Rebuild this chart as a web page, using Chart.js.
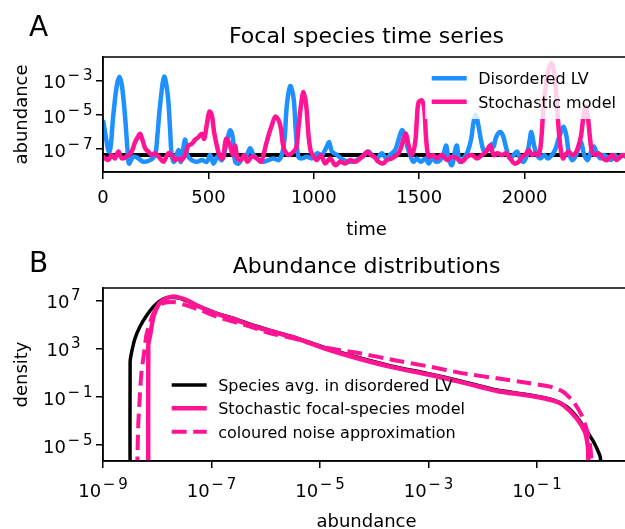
<!DOCTYPE html>
<html>
<head>
<meta charset="utf-8">
<script src="https://cdn.jsdelivr.net/npm/chart.js@4.4.0/dist/chart.umd.min.js"></script>
<style>
html, body { margin: 0; padding: 0; background: #fff; overflow: hidden; width: 625px; height: 529px; }
canvas { position: absolute; left: 0; }
#timeChart { top: 0; }
#distChart { top: 250px; }
</style>
</head>
<body>
<canvas id="timeChart" width="630" height="250"></canvas>
<canvas id="distChart" width="630" height="279"></canvas>
<script>
const FONT = 'DejaVu Sans';
const BLUE = '#1e90ff';
const PINK = '#ff1493';

// ---- panel A: focal species time series (log10 abundance)
const lvTime = [0, 30, 49, 65, 78, 90, 104, 116, 123, 144, 168, 192, 223, 247, 258, 271, 290, 307, 318, 326, 337, 358, 369, 389, 400, 421, 445, 469, 492, 508, 524, 543, 564, 584, 603, 616, 627, 643, 666, 682, 698, 714, 738, 761, 785, 809, 833, 848, 861, 872, 888, 904, 915, 927, 943, 967, 991, 1015, 1038, 1062, 1073, 1086, 1110, 1141, 1173, 1205, 1228, 1260, 1275, 1299, 1323, 1343, 1362, 1386, 1402, 1418, 1429, 1442, 1457, 1473, 1489, 1508, 1529, 1545, 1560, 1581, 1600, 1616, 1628, 1639, 1655, 1671, 1679, 1692, 1711, 1730, 1746, 1758, 1769, 1782, 1795, 1809, 1829, 1845, 1853, 1865, 1883, 1897, 1913, 1929, 1948, 1964, 1979, 1995, 2011, 2024, 2032, 2046, 2059, 2075, 2093, 2109, 2130, 2146, 2161, 2173, 2185, 2198, 2209, 2225, 2245, 2258, 2268, 2283, 2299, 2315, 2328, 2343, 2359, 2375, 2391, 2410, 2426, 2446, 2462, 2478, 2500];
const lvLogAbund = [-5.3, -7.16, -5.0, -3.3, -2.75, -3.3, -5.0, -7.0, -7.85, -7.45, -7.55, -7.75, -7.65, -7.35, -6.2, -4.4, -2.75, -3.8, -5.8, -7.35, -7.75, -7.05, -7.75, -6.45, -7.35, -7.65, -7.75, -7.65, -7.75, -7.35, -7.85, -7.45, -7.65, -6.8, -5.9, -6.35, -7.75, -7.85, -7.45, -7.35, -6.95, -7.35, -7.65, -7.75, -7.65, -7.55, -7.65, -7.35, -6.45, -4.45, -3.3, -4.0, -6.0, -7.45, -7.55, -7.45, -7.55, -7.25, -7.35, -6.85, -6.6, -7.15, -7.35, -7.65, -7.75, -7.65, -7.45, -7.15, -7.35, -7.55, -7.25, -7.55, -7.35, -7.05, -6.45, -5.9, -6.1, -6.8, -7.35, -7.75, -7.55, -7.75, -7.55, -7.85, -7.55, -7.75, -7.65, -7.25, -6.8, -7.55, -7.95, -7.05, -6.8, -7.75, -7.55, -7.15, -6.45, -5.4, -5.0, -5.7, -6.6, -7.15, -6.95, -6.7, -6.85, -6.3, -6.0, -6.2, -6.95, -7.55, -7.35, -7.15, -7.55, -7.75, -7.35, -6.5, -6.0, -6.85, -7.35, -7.55, -7.35, -7.55, -7.35, -7.0, -6.4, -6.0, -5.7, -6.2, -7.15, -7.65, -7.35, -6.8, -6.6, -7.35, -7.65, -7.15, -6.85, -7.25, -7.55, -7.35, -7.45, -7.65, -7.35, -7.55, -7.35, -7.45, -7.5];

const stochTime = [0, 25, 41, 57, 73, 89, 112, 136, 152, 165, 176, 187, 200, 215, 231, 247, 271, 287, 310, 326, 342, 358, 374, 389, 405, 421, 437, 453, 469, 480, 492, 505, 516, 527, 540, 552, 568, 584, 600, 616, 627, 638, 654, 670, 685, 706, 730, 749, 761, 774, 790, 801, 817, 833, 844, 853, 864, 880, 896, 916, 927, 939, 951, 964, 975, 986, 999, 1015, 1034, 1054, 1078, 1102, 1125, 1149, 1173, 1197, 1220, 1239, 1255, 1271, 1286, 1307, 1328, 1347, 1370, 1394, 1410, 1426, 1437, 1450, 1465, 1481, 1489, 1497, 1513, 1524, 1533, 1545, 1565, 1584, 1608, 1632, 1655, 1679, 1703, 1727, 1750, 1774, 1798, 1818, 1837, 1853, 1872, 1892, 1913, 1932, 1951, 1972, 1987, 2003, 2019, 2035, 2051, 2067, 2078, 2090, 2103, 2114, 2127, 2138, 2149, 2158, 2169, 2182, 2193, 2209, 2225, 2241, 2256, 2268, 2280, 2291, 2301, 2309, 2320, 2336, 2351, 2372, 2391, 2415, 2435, 2454, 2478, 2500];
const stochLogAbund = [-7.45, -7.65, -7.35, -7.55, -7.15, -7.55, -7.45, -7.15, -6.6, -6.3, -6.1, -6.45, -6.95, -7.15, -7.35, -7.25, -7.55, -7.75, -7.25, -7.35, -7.65, -7.55, -7.65, -7.35, -6.8, -6.7, -6.45, -6.3, -6.1, -6.4, -5.6, -4.8, -5.0, -6.0, -6.8, -7.35, -7.55, -6.4, -6.7, -7.35, -6.8, -7.55, -7.65, -7.35, -7.75, -7.45, -7.55, -7.75, -7.35, -6.7, -6.0, -5.6, -5.1, -5.3, -5.8, -6.7, -7.15, -7.35, -7.25, -6.95, -5.8, -4.45, -3.65, -4.45, -6.2, -7.15, -7.45, -7.65, -7.35, -7.85, -7.55, -7.95, -7.75, -7.85, -7.65, -7.75, -7.55, -7.35, -7.15, -7.35, -7.45, -7.75, -7.85, -7.65, -7.55, -7.35, -7.05, -6.4, -6.1, -6.8, -7.35, -6.6, -5.25, -4.25, -4.15, -4.65, -6.4, -7.45, -7.35, -7.55, -7.35, -7.65, -7.45, -7.55, -7.75, -7.45, -7.35, -7.55, -7.35, -7.15, -6.8, -7.35, -7.25, -7.35, -7.25, -7.55, -7.85, -7.75, -7.45, -7.35, -7.05, -7.35, -7.25, -7.35, -6.6, -4.45, -3.0, -2.3, -1.95, -2.35, -3.65, -5.25, -6.8, -7.55, -7.35, -7.15, -7.35, -7.25, -6.8, -6.2, -5.0, -4.5, -5.2, -6.2, -7.15, -7.35, -7.25, -7.55, -7.65, -7.35, -7.65, -7.45, -7.35, -7.4];

const meanTime = [0, 2500];
const meanAbund = [4.5e-8, 4.5e-8];

const timeTicks = [0, 500, 1000, 1500, 2000];
const abundTickExps = [-7, -5, -3];

// ---- panel B: abundance distributions (log10 abundance, log10 density)
const lvDistLogX = [-8.50, -8.50, -8.46, -8.41, -8.32, -8.19, -8.07, -7.95, -7.83, -7.70, -7.58, -7.40, -7.21, -6.90, -6.60, -6.29, -5.92, -5.49, -4.88, -4.26, -3.65, -3.00, -2.36, -1.74, -1.13, -0.70, -0.45, -0.27, -0.12, 0.04, 0.13, 0.17, 0.18];
const lvDistLogY = [-9, 1.94, 3.0, 3.89, 4.86, 5.83, 6.53, 7.0, 7.28, 7.3, 7.22, 6.89, 6.53, 5.97, 5.56, 5.06, 4.55, 4.0, 3.06, 2.25, 1.55, 0.95, 0.28, -0.42, -0.83, -1.25, -1.81, -2.64, -3.61, -4.72, -5.56, -6.11, -9];

const stochDistLogX = [-8.165, -8.165, -8.13, -8.07, -7.98, -7.86, -7.73, -7.61, -7.46, -7.21, -6.90, -6.60, -6.29, -5.92, -5.49, -4.88, -4.26, -3.65, -3.00, -2.36, -1.74, -1.13, -0.70, -0.52, -0.27, -0.12, -0.075, -0.056, -0.056];
const stochDistLogY = [-9, 3.33, 4.17, 5.69, 6.67, 7.17, 7.36, 7.3, 7.08, 6.5, 5.93, 5.5, 5.0, 4.5, 3.97, 3.0, 2.17, 1.47, 0.87, 0.2, -0.5, -0.9, -1.3, -1.67, -2.78, -3.89, -4.72, -5.6, -9];

const noiseDistLogX = [-8.38, -8.35, -8.32, -8.29, -8.24, -8.20, -8.13, -8.04, -7.92, -7.80, -7.67, -7.52, -7.21, -6.90, -6.60, -6.29, -5.92, -5.49, -4.88, -4.26, -3.65, -3.00, -2.36, -1.74, -1.13, -0.76, -0.52, -0.33, -0.18, -0.09, -0.03, 0.0, 0.0];
const noiseDistLogY = [-9, -3.33, -0.83, 1.11, 2.78, 4.17, 5.28, 6.25, 6.75, 6.89, 6.89, 6.72, 6.25, 5.69, 5.28, 4.86, 4.31, 3.89, 3.11, 2.64, 2.08, 1.55, 0.97, 0.56, 0.14, -0.14, -0.56, -1.39, -2.5, -3.61, -4.72, -6.1, -9];

const distXTickExps = [-9, -7, -5, -3, -1];
const distYTickExps = [-5, -1, 3, 7];


function toPoints(xs, ys, logX){
    return xs.map((x, i) => ({ x: logX ? Math.pow(10, x) : x, y: Math.pow(10, ys[i]) }));
}

// "10" with a raised exponent, like matplotlib's log tick labels
function powerWidth(ctx, exp){
    ctx.font = `18px "${FONT}"`;
    let wb = ctx.measureText('10').width;
    ctx.font = `15px "${FONT}"`;
    let ws = ctx.measureText(String(Math.abs(exp))).width;
    let wm = exp < 0 ? ctx.measureText('\u2212').width + 3 : 0;
    return { wb: wb, wm: wm, total: wb + 1.5 + wm + ws };
}

function drawPower(ctx, exp, x, y, align){
    let m = powerWidth(ctx, exp);
    let left = align === 'right' ? x - m.total : x - m.total / 2;
    ctx.fillStyle = '#000';
    ctx.textAlign = 'left';
    ctx.textBaseline = 'alphabetic';
    ctx.font = `18px "${FONT}"`;
    ctx.fillText('10', left, y);
    ctx.font = `15px "${FONT}"`;
    let sx = left + m.wb + 1.5;
    if (exp < 0) ctx.fillText('\u2212', sx, y - 8);
    ctx.fillText(String(Math.abs(exp)), sx + m.wm, y - 8);
}

function drawText(ctx, str, x, y, size, align, rotate){
    ctx.save();
    ctx.translate(x, y);
    if (rotate) ctx.rotate(-Math.PI / 2);
    ctx.font = `${size}px "${FONT}"`;
    ctx.fillStyle = '#000';
    ctx.textAlign = align;
    ctx.textBaseline = 'alphabetic';
    ctx.fillText(str, 0, 0);
    ctx.restore();
}

function drawFrame(chart){
    let ctx = chart.ctx;
    let a = chart.chartArea;
    ctx.save();
    ctx.strokeStyle = '#000';
    ctx.lineWidth = 1.5;
    ctx.strokeRect(a.left, a.top, a.right - a.left, a.bottom - a.top);
    ctx.restore();
}

function drawLegend(chart, x0, rows, box){
    let ctx = chart.ctx;
    ctx.save();
    if (box) {
        ctx.fillStyle = 'rgba(255,255,255,0.8)';
        ctx.fillRect(box[0], box[1], box[2], box[3]);
    }
    chart.data.datasets.forEach((ds) => {
        if (ds.legendRow === undefined) return;
        let y = rows[ds.legendRow];
        ctx.beginPath();
        ctx.strokeStyle = ds.borderColor;
        ctx.lineWidth = ds.borderWidth;
        ctx.setLineDash(ds.borderDash || []);
        ctx.moveTo(x0, y);
        ctx.lineTo(x0 + 35, y);
        ctx.stroke();
        ctx.setLineDash([]);
        drawText(ctx, ds.label, x0 + 46.5, y + 6, 16, 'left', false);
    });
    ctx.restore();
}

function logTicks(exps){
    return function(scale){
        scale.ticks = exps.map(e => ({ value: Math.pow(10, e) }));
    };
}

let axisGrid = { drawOnChartArea: false, drawTicks: true, tickLength: 7, color: '#000', lineWidth: 1.5 };
let axisBorder = { display: true, color: '#000', width: 1.5 };

// ---------------- chart A
let timeCanvas = document.getElementById('timeChart').getContext('2d');

let timePlugin = {
    id: 'timeDecor',
    afterDraw(chart){
        let ctx = chart.ctx;
        let yScale = chart.scales.y;
        drawFrame(chart);
        abundTickExps.forEach(e => {
            drawPower(ctx, e, 92.5, yScale.getPixelForValue(Math.pow(10, e)) + 7.5, 'right');
        });
        drawText(ctx, 'A', 29, 36, 28, 'left', false);
        drawText(ctx, 'Focal species time series', 366.5, 43, 22, 'center', false);
        drawText(ctx, 'time', 366.5, 235, 18, 'center', false);
        drawText(ctx, 'abundance', 26.5, 114.5, 18, 'center', true);
        drawLegend(chart, 431.7, [78.3, 101.7], [425, 61, 205, 58]);
    }
};

new Chart(timeCanvas, {
    type: 'line',
    data: {
        datasets: [{
            label: 'Stochastic model',
            data: toPoints(stochTime, stochLogAbund, false),
            borderColor: PINK,
            borderWidth: 4.5,
            tension: 0.35,
            order: 1,
            legendRow: 1
        }, {
            label: 'Disordered LV',
            data: toPoints(lvTime, lvLogAbund, false),
            borderColor: BLUE,
            borderWidth: 4.5,
            tension: 0.35,
            order: 2,
            legendRow: 0
        }, {
            label: 'mean',
            data: meanTime.map((t, i) => ({ x: t, y: meanAbund[i] })),
            borderColor: '#000',
            borderWidth: 4,
            order: 3
        }]
    },
    options: {
        responsive: false,
        devicePixelRatio: 1,
        animation: false,
        events: [],
        elements: { point: { radius: 0 }, line: { fill: false, borderJoinStyle: 'round' } },
        datasets: { line: { clip: 0 } },
        layout: { padding: { top: 57, left: 0, right: 0, bottom: 0 } },
        plugins: { legend: { display: false }, tooltip: { enabled: false }, title: { display: false } },
        scales: {
            x: {
                type: 'linear',
                min: 0,
                max: 2500,
                afterBuildTicks: (scale) => { scale.ticks = timeTicks.map(v => ({ value: v })); },
                afterFit: (scale) => { scale.height = 78; },
                grid: axisGrid,
                border: axisBorder,
                ticks: {
                    color: '#000',
                    font: { family: FONT, size: 18 },
                    padding: 9,
                    maxRotation: 0,
                    autoSkip: false,
                    callback: (value) => String(value)
                }
            },
            y: {
                type: 'logarithmic',
                min: Math.pow(10, -8.35),
                max: Math.pow(10, -1.59),
                afterBuildTicks: logTicks(abundTickExps),
                afterFit: (scale) => { scale.width = 103; },
                grid: axisGrid,
                border: axisBorder,
                ticks: { display: false }
            }
        }
    },
    plugins: [timePlugin]
});

// ---------------- chart B
let distCanvas = document.getElementById('distChart').getContext('2d');

let distPlugin = {
    id: 'distDecor',
    afterDraw(chart){
        let ctx = chart.ctx;
        let xScale = chart.scales.x;
        let yScale = chart.scales.y;
        drawFrame(chart);
        distYTickExps.forEach(e => {
            // positive exponents sit further left in the original
            let right = e < 0 ? 92.5 : 80.5;
            drawPower(ctx, e, right, yScale.getPixelForValue(Math.pow(10, e)) + 7.5, 'right');
        });
        distXTickExps.forEach(e => {
            drawPower(ctx, e, xScale.getPixelForValue(Math.pow(10, e)), 246.7, 'center');
        });
        drawText(ctx, 'B', 29, 21.7, 28, 'left', false);
        drawText(ctx, 'Abundance distributions', 366.5, 22.5, 22, 'center', false);
        drawText(ctx, 'abundance', 366.5, 277, 18, 'center', false);
        drawText(ctx, 'density', 26.5, 124.5, 18, 'center', true);
        drawLegend(chart, 171.7, [135, 158.3, 181.7], null);
    }
};

new Chart(distCanvas, {
    type: 'line',
    data: {
        datasets: [{
            label: 'coloured noise approximation',
            data: toPoints(noiseDistLogX, noiseDistLogY, true),
            borderColor: PINK,
            borderWidth: 4,
            borderDash: [15, 6.5],
            order: 1,
            legendRow: 2
        }, {
            label: 'Stochastic focal-species model',
            data: toPoints(stochDistLogX, stochDistLogY, true),
            borderColor: PINK,
            borderWidth: 4.5,
            order: 2,
            legendRow: 1
        }, {
            label: 'Species avg. in disordered LV',
            data: toPoints(lvDistLogX, lvDistLogY, true),
            borderColor: '#000',
            borderWidth: 3.5,
            order: 3,
            legendRow: 0
        }]
    },
    options: {
        responsive: false,
        devicePixelRatio: 1,
        animation: false,
        events: [],
        elements: { point: { radius: 0 }, line: { fill: false, tension: 0.2, borderJoinStyle: 'round' } },
        datasets: { line: { clip: 0 } },
        layout: { padding: { top: 38, left: 0, right: 0, bottom: 0 } },
        plugins: { legend: { display: false }, tooltip: { enabled: false }, title: { display: false } },
        scales: {
            x: {
                type: 'logarithmic',
                min: 1e-9,
                max: Math.pow(10, 0.714),
                afterBuildTicks: logTicks(distXTickExps),
                afterFit: (scale) => { scale.height = 68; },
                grid: axisGrid,
                border: axisBorder,
                ticks: { display: false }
            },
            y: {
                type: 'logarithmic',
                min: Math.pow(10, -6.333),
                max: Math.pow(10, 8.083),
                afterBuildTicks: logTicks(distYTickExps),
                afterFit: (scale) => { scale.width = 103; },
                grid: axisGrid,
                border: axisBorder,
                ticks: { display: false }
            }
        }
    },
    plugins: [distPlugin]
});
</script>
</body>
</html>
